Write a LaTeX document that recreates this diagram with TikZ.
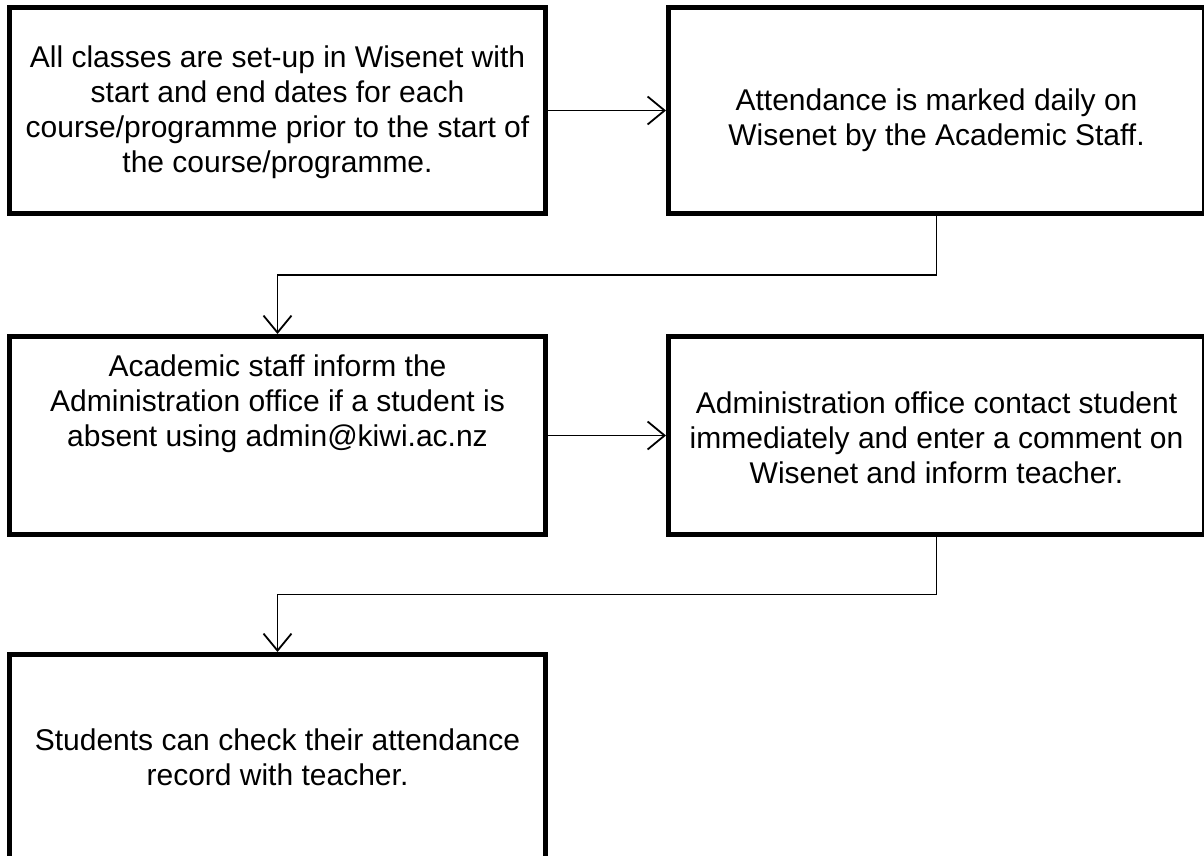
\documentclass[tikz,border=0pt]{standalone}
\usepackage{fontspec}
\setmainfont{Liberation Sans}
\usetikzlibrary{arrows.meta,positioning}
% box text: last baseline raised by #1 from the box centre
\newcommand{\boxlines}[2]{\raisebox{#1}[0pt][0pt]{\begin{tabular}[b]{@{}c@{}}#2\end{tabular}}}

\begin{document}
\begin{tikzpicture}[
node distance=59pt and 59pt,
box/.style={draw,line width=2.5pt,minimum width=268pt,inner sep=4pt,font=\fontsize{15}{17.5}\selectfont},
arr/.style={-{Straight Barb[length=8.5pt,width=14pt]},line width=0.9pt}
]
\useasboundingbox (-138.75pt,55.25pt) rectangle ++(602pt,-428pt);
\node[box,minimum height=103pt] (setup) {\boxlines{-31.25pt}{All classes are set-up in Wisenet with\\start and end dates for each\\course/programme prior to the start of\\the course/programme.}};
\node[box,minimum height=103pt,right=of setup] (mark) {\boxlines{-17.75pt}{Attendance is marked daily on\\Wisenet by the Academic Staff.}};
\node[box,minimum height=99pt,below=of setup] (inform) {\boxlines{-5.25pt}{Academic staff inform the\\Administration office if a student is\\absent using admin@kiwi.ac.nz}};
\node[box,minimum height=99pt,right=of inform] (contact) {\boxlines{-23.75pt}{Administration office contact student\\immediately and enter a comment on\\Wisenet and inform teacher.}};
\node[box,minimum height=120pt,below=57.5pt of inform] (check) {\boxlines{-5.5pt}{Students can check their attendance\\record with teacher.}};
\draw[arr] (setup) -- (mark);
\draw[arr] (mark.south) -- ++(0,-29.5pt) -| (inform.north);
\draw[arr] (inform) -- (contact);
\draw[arr] (contact.south) -- ++(0,-28.75pt) -| (check.north);
\end{tikzpicture}
\end{document}
